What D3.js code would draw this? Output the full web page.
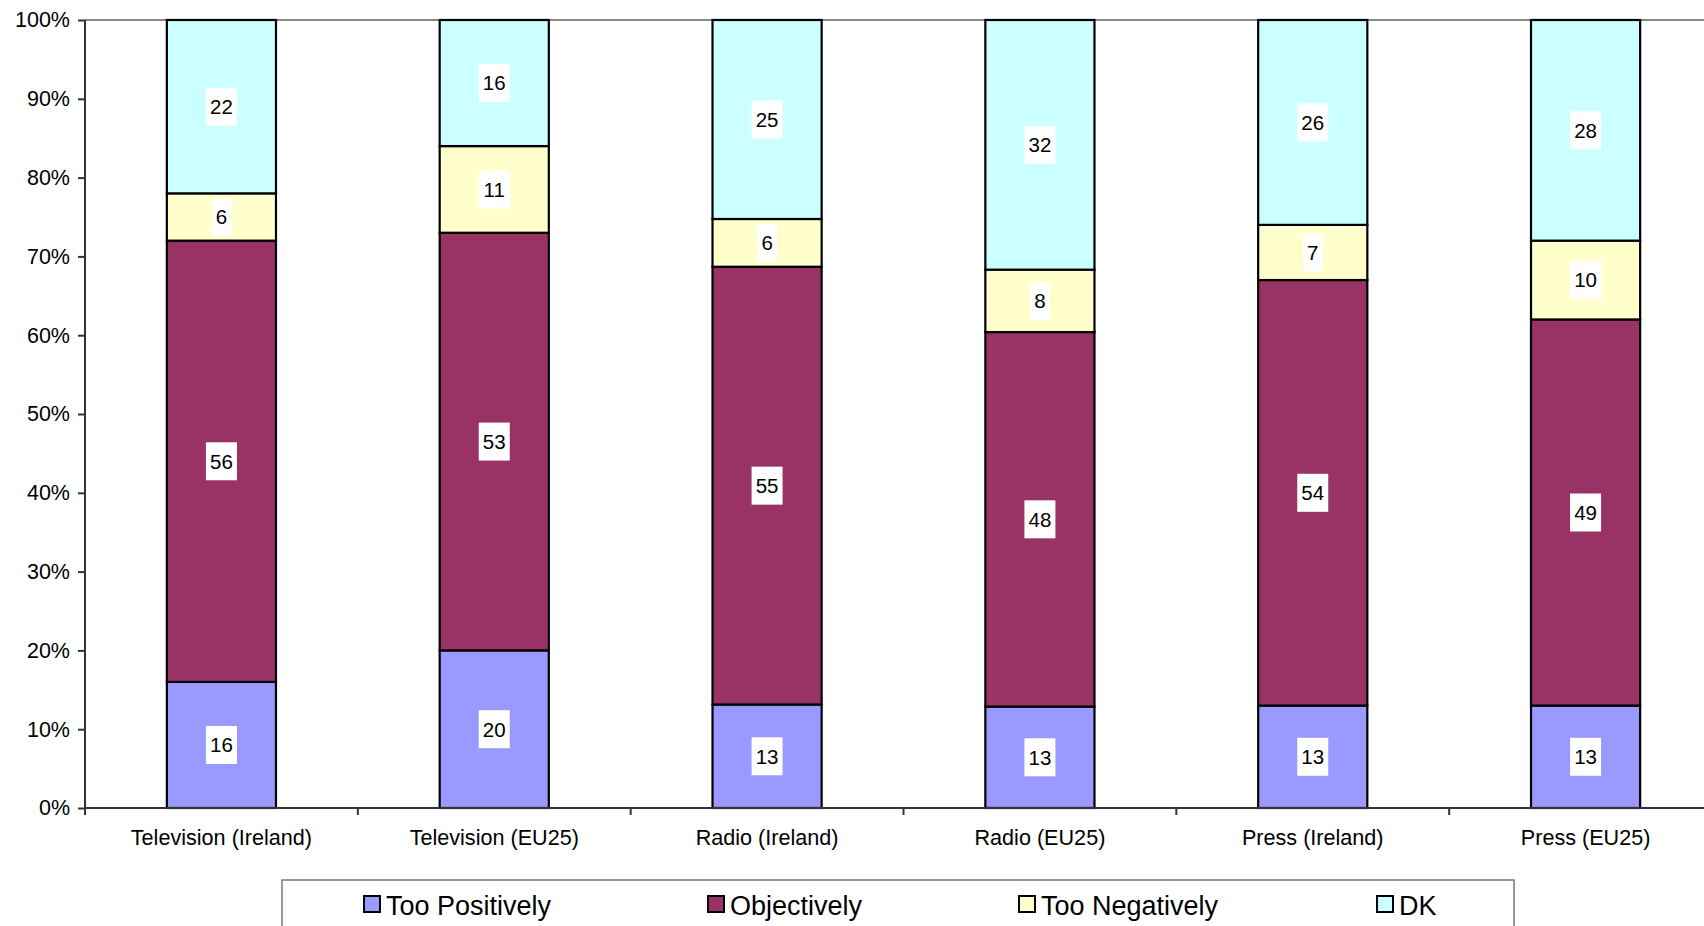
<!DOCTYPE html>
<html><head><meta charset="utf-8">
<script src="https://cdn.jsdelivr.net/npm/d3@7"></script>
<style>body{margin:0;background:#fff}svg{display:block;font-family:"Liberation Sans",Arial,sans-serif}</style>
</head><body><svg id="c" width="1704" height="926"></svg>
<script>
const categories = ["Television (Ireland)","Television (EU25)","Radio (Ireland)","Radio (EU25)","Press (Ireland)","Press (EU25)"];
const seriesNames = ["Too Positively","Objectively","Too Negatively","DK"];
const tooPositively = [16,20,13,13,13,13];
const objectively = [56,53,55,48,54,49];
const tooNegatively = [6,11,6,8,7,10];
const dk = [22,16,25,32,26,28];
const colors = ["#9999FF","#993366","#FFFFCC","#CCFFFF"];
const yTicks = [0,10,20,30,40,50,60,70,80,90,100];

const seriesVals = [tooPositively, objectively, tooNegatively, dk];
const rows = categories.map((c,i)=>{const r={cat:c}; seriesNames.forEach((s,k)=>r[s]=seriesVals[k][i]); return r;});

const svg = d3.select("#c");
const pL=85, pT=20, pB=808, pR=1722;
const x = d3.scaleBand().domain(categories).range([pL,pR]).paddingInner(0.6).paddingOuter(0.3);
const xb = d3.scaleBand().domain(categories).range([pL,pR]);
const y = d3.scaleLinear().domain([0,1]).range([pB,pT]);

const stack = d3.stack().keys(seriesNames).offset(d3.stackOffsetExpand);
const stacked = stack(rows);

svg.append("line").attr("x1",pL).attr("x2",pR).attr("y1",pT).attr("y2",pT)
  .attr("stroke","#888").attr("stroke-width",2);

const g = svg.append("g");
stacked.forEach((layer,k)=>{
  g.selectAll(null).data(layer).enter().append("rect")
    .attr("x",d=>x(d.data.cat)).attr("width",x.bandwidth())
    .attr("y",d=>y(d[1])).attr("height",d=>y(d[0])-y(d[1]))
    .attr("fill",colors[k]).attr("stroke","#000").attr("stroke-width",2.2);
});
stacked.forEach((layer,k)=>{
  layer.forEach(d=>{
    const cx = x(d.data.cat)+x.bandwidth()/2;
    const cy = (y(d[0])+y(d[1]))/2;
    const t = String(d.data[seriesNames[k]]);
    const w = t.length*11.5+8;
    svg.append("rect").attr("x",cx-w/2).attr("y",cy-19).attr("width",w).attr("height",38).attr("fill","#fff");
    svg.append("text").attr("x",cx).attr("y",cy).attr("dy","0.36em").attr("text-anchor","middle")
      .attr("font-size",20.5).attr("fill","#000").text(t);
  });
});

const yAxis = svg.append("g").attr("transform",`translate(${pL},0)`)
  .call(d3.axisLeft(y).tickValues(yTicks.map(v=>v/100)).tickFormat(v=>Math.round(v*100)+"%").tickSize(7).tickPadding(8));
yAxis.select(".domain").attr("stroke","#333").attr("stroke-width",2).attr("d",`M0,${pT}V${pB}`);
yAxis.selectAll(".tick line").attr("stroke","#333").attr("stroke-width",2);
yAxis.selectAll(".tick text").attr("font-size",21.5).attr("fill","#000").attr("font-family","Liberation Sans, Arial, sans-serif");

const xAxis = svg.append("g").attr("transform",`translate(0,${pB})`)
  .call(d3.axisBottom(xb).tickSize(0).tickPadding(22));
xAxis.select(".domain").attr("stroke","#333").attr("stroke-width",2).attr("d",`M${pL},0H${pR}`);
xAxis.selectAll(".tick text").attr("font-size",21.6).attr("fill","#000").attr("font-family","Liberation Sans, Arial, sans-serif");
xAxis.selectAll(".bt").data(d3.range(categories.length+1)).enter().append("line")
  .attr("x1",i=>pL+i*xb.step()).attr("x2",i=>pL+i*xb.step()).attr("y1",0).attr("y2",7)
  .attr("stroke","#333").attr("stroke-width",2);

svg.append("rect").attr("x",282).attr("y",880).attr("width",1232).attr("height",80)
  .attr("fill","#fff").attr("stroke","#777").attr("stroke-width",1.5);
const legX = [364,708,1019,1377];
seriesNames.forEach((s,k)=>{
  svg.append("rect").attr("x",legX[k]).attr("y",896).attr("width",16).attr("height",16)
    .attr("fill",colors[k]).attr("stroke","#000").attr("stroke-width",2);
  svg.append("text").attr("x",legX[k]+22).attr("y",905).attr("dy","0.36em")
    .attr("font-size",27).attr("fill","#000").text(s);
});
</script></body></html>
